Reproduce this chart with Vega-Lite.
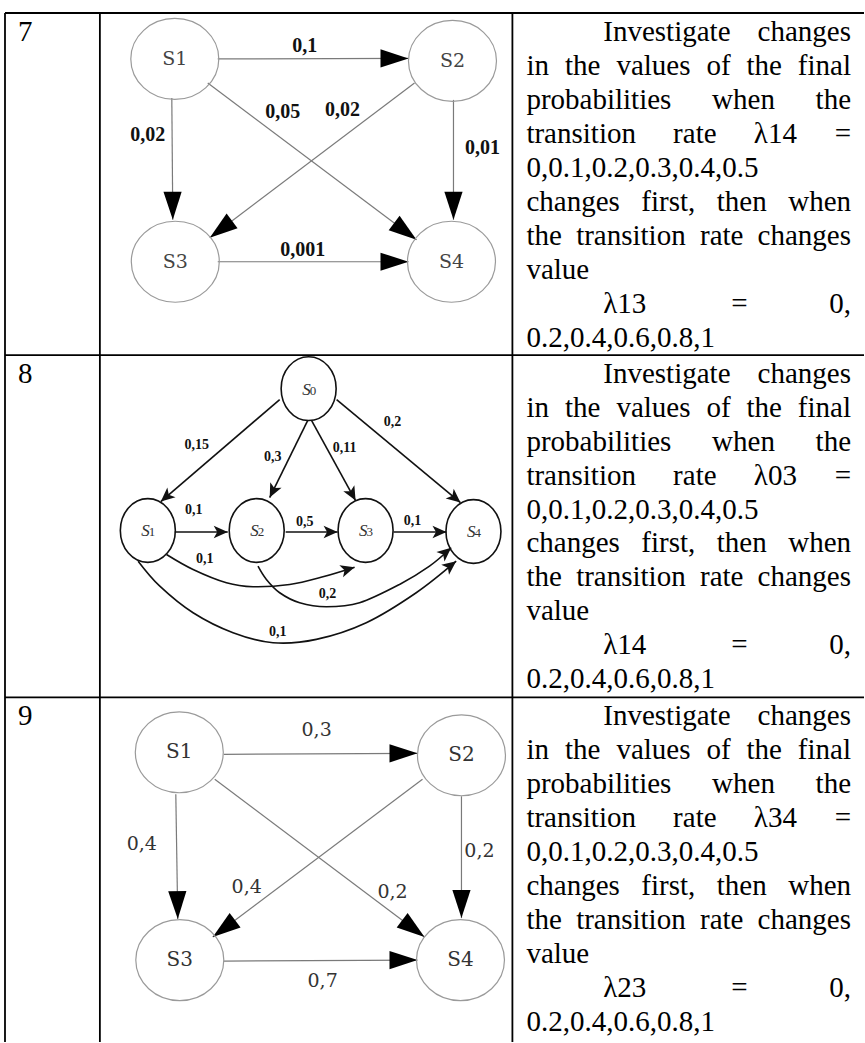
{
 "$schema": "https://vega.github.io/schema/vega-lite/v6.json",
 "width": 865,
 "height": 1043,
 "autosize": {"type": "fit", "contains": "padding"},
 "padding": 0,
 "background": "white",
 "config": {"view": {"stroke": null}},
 "datasets": {
  "grid": [
   {"x": 5, "y": 13, "x2": 865, "y2": 13},
   {"x": 5, "y": 355.5, "x2": 865, "y2": 355.5},
   {"x": 5, "y": 698, "x2": 865, "y2": 698},
   {"x": 5, "y": 13, "x2": 5, "y2": 1043},
   {"x": 100, "y": 13, "x2": 100, "y2": 1043},
   {"x": 513, "y": 13, "x2": 513, "y2": 1043}
  ],
  "nums": [
   {"n": "7", "x": 18, "y": 41},
   {"n": "8", "x": 18, "y": 383},
   {"n": "9", "x": 18, "y": 726}
  ],
  "words": [
   {"w": "Investigate", "x": 604, "y": 41},
   {"w": "in", "x": 527, "y": 75}, {"w": "the", "x": 565.6, "y": 75}, {"w": "values", "x": 617.1, "y": 75}, {"w": "of", "x": 707.2, "y": 75}, {"w": "the", "x": 747.4, "y": 75},
   {"w": "probabilities", "x": 527, "y": 109}, {"w": "when", "x": 712.9, "y": 109},
   {"w": "transition", "x": 527, "y": 143}, {"w": "rate", "x": 673.9, "y": 143}, {"w": "λ14", "x": 754.7, "y": 143},
   {"w": "0,0.1,0.2,0.3,0.4,0.5", "x": 527, "y": 177},
   {"w": "changes", "x": 527, "y": 211}, {"w": "first,", "x": 642, "y": 211}, {"w": "then", "x": 717.6, "y": 211},
   {"w": "the", "x": 527, "y": 245}, {"w": "transition", "x": 576.8, "y": 245}, {"w": "rate", "x": 700.8, "y": 245},
   {"w": "value", "x": 527, "y": 279},
   {"w": "λ13", "x": 604, "y": 313}, {"w": "=", "x": 732, "y": 313},
   {"w": "0.2,0.4,0.6,0.8,1", "x": 527, "y": 347},

   {"w": "Investigate", "x": 604, "y": 383},
   {"w": "in", "x": 527, "y": 417}, {"w": "the", "x": 565.6, "y": 417}, {"w": "values", "x": 617.1, "y": 417}, {"w": "of", "x": 707.2, "y": 417}, {"w": "the", "x": 747.4, "y": 417},
   {"w": "probabilities", "x": 527, "y": 451}, {"w": "when", "x": 712.9, "y": 451},
   {"w": "transition", "x": 527, "y": 485}, {"w": "rate", "x": 673.9, "y": 485}, {"w": "λ03", "x": 754.7, "y": 485},
   {"w": "0,0.1,0.2,0.3,0.4,0.5", "x": 527, "y": 519},
   {"w": "changes", "x": 527, "y": 553}, {"w": "first,", "x": 642, "y": 553}, {"w": "then", "x": 717.6, "y": 553},
   {"w": "the", "x": 527, "y": 587}, {"w": "transition", "x": 576.8, "y": 587}, {"w": "rate", "x": 700.8, "y": 587},
   {"w": "value", "x": 527, "y": 621},
   {"w": "λ14", "x": 604, "y": 655}, {"w": "=", "x": 732, "y": 655},
   {"w": "0.2,0.4,0.6,0.8,1", "x": 527, "y": 689},

   {"w": "Investigate", "x": 604, "y": 726},
   {"w": "in", "x": 527, "y": 760}, {"w": "the", "x": 565.6, "y": 760}, {"w": "values", "x": 617.1, "y": 760}, {"w": "of", "x": 707.2, "y": 760}, {"w": "the", "x": 747.4, "y": 760},
   {"w": "probabilities", "x": 527, "y": 794}, {"w": "when", "x": 712.9, "y": 794},
   {"w": "transition", "x": 527, "y": 828}, {"w": "rate", "x": 673.9, "y": 828}, {"w": "λ34", "x": 754.7, "y": 828},
   {"w": "0,0.1,0.2,0.3,0.4,0.5", "x": 527, "y": 862},
   {"w": "changes", "x": 527, "y": 896}, {"w": "first,", "x": 642, "y": 896}, {"w": "then", "x": 717.6, "y": 896},
   {"w": "the", "x": 527, "y": 930}, {"w": "transition", "x": 576.8, "y": 930}, {"w": "rate", "x": 700.8, "y": 930},
   {"w": "value", "x": 527, "y": 964},
   {"w": "λ23", "x": 604, "y": 998}, {"w": "=", "x": 732, "y": 998},
   {"w": "0.2,0.4,0.6,0.8,1", "x": 527, "y": 1032}
  ],
  "wordsEnd": [
   {"w": "changes", "x": 852, "y": 41}, {"w": "final", "x": 852, "y": 75}, {"w": "the", "x": 852, "y": 109}, {"w": "=", "x": 852, "y": 143}, {"w": "when", "x": 852, "y": 211}, {"w": "changes", "x": 852, "y": 245}, {"w": "0,", "x": 852, "y": 313},
   {"w": "changes", "x": 852, "y": 383}, {"w": "final", "x": 852, "y": 417}, {"w": "the", "x": 852, "y": 451}, {"w": "=", "x": 852, "y": 485}, {"w": "when", "x": 852, "y": 553}, {"w": "changes", "x": 852, "y": 587}, {"w": "0,", "x": 852, "y": 655},
   {"w": "changes", "x": 852, "y": 726}, {"w": "final", "x": 852, "y": 760}, {"w": "the", "x": 852, "y": 794}, {"w": "=", "x": 852, "y": 828}, {"w": "when", "x": 852, "y": 896}, {"w": "changes", "x": 852, "y": 930}, {"w": "0,", "x": 852, "y": 998}
  ],
  "nodes": [
   {"g": "d7", "name": "S1", "s": "S", "n": "1", "x": 175, "y": 59},
   {"g": "d7", "name": "S2", "s": "S", "n": "2", "x": 453, "y": 61},
   {"g": "d7", "name": "S3", "s": "S", "n": "3", "x": 175.5, "y": 262},
   {"g": "d7", "name": "S4", "s": "S", "n": "4", "x": 452, "y": 262},
   {"g": "d8", "name": "S0", "s": "S", "n": "0", "x": 309, "y": 389},
   {"g": "d8", "name": "S1", "s": "S", "n": "1", "x": 148, "y": 531},
   {"g": "d8", "name": "S2", "s": "S", "n": "2", "x": 257, "y": 531},
   {"g": "d8", "name": "S3", "s": "S", "n": "3", "x": 366, "y": 531},
   {"g": "d8", "name": "S4", "s": "S", "n": "4", "x": 474, "y": 532},
   {"g": "d9", "name": "S1", "s": "S", "n": "1", "x": 179.5, "y": 753},
   {"g": "d9", "name": "S2", "s": "S", "n": "2", "x": 462, "y": 756},
   {"g": "d9", "name": "S3", "s": "S", "n": "3", "x": 180, "y": 961},
   {"g": "d9", "name": "S4", "s": "S", "n": "4", "x": 461, "y": 961}
  ],
  "edges": [
   {"g": "d7", "x": 218, "y": 59, "x2": 409, "y2": 58.5},
   {"g": "d7", "x": 172, "y": 98, "x2": 173, "y2": 220},
   {"g": "d7", "x": 454, "y": 100, "x2": 454, "y2": 220},
   {"g": "d7", "x": 218, "y": 262, "x2": 409, "y2": 262},
   {"g": "d7", "x": 208, "y": 83, "x2": 417, "y2": 240},
   {"g": "d7", "x": 415, "y": 83, "x2": 210, "y2": 238},
   {"g": "d9", "x": 224, "y": 755, "x2": 418, "y2": 754},
   {"g": "d9", "x": 176, "y": 795, "x2": 178, "y2": 920},
   {"g": "d9", "x": 462, "y": 797, "x2": 462, "y2": 919},
   {"g": "d9", "x": 224, "y": 962, "x2": 418, "y2": 961},
   {"g": "d9", "x": 215, "y": 780, "x2": 425, "y2": 938},
   {"g": "d9", "x": 423, "y": 780, "x2": 213, "y2": 938},
   {"g": "d8", "x": 280, "y": 400, "x2": 161, "y2": 502},
   {"g": "d8", "x": 308, "y": 421, "x2": 270, "y2": 498},
   {"g": "d8", "x": 312, "y": 421, "x2": 356, "y2": 501},
   {"g": "d8", "x": 337, "y": 400, "x2": 461, "y2": 503},
   {"g": "d8", "x": 175, "y": 532.5, "x2": 228, "y2": 532.5},
   {"g": "d8", "x": 286, "y": 532.5, "x2": 338, "y2": 532.5},
   {"g": "d8", "x": 394, "y": 532.5, "x2": 447, "y2": 532.5}
  ],
  "curves": [
   {"edge": "c13", "i": 0, "x": 166.7, "y": 555}, {"edge": "c13", "i": 1, "x": 193.3, "y": 570}, {"edge": "c13", "i": 2, "x": 226.7, "y": 583.3}, {"edge": "c13", "i": 3, "x": 253.3, "y": 587.3}, {"edge": "c13", "i": 4, "x": 290, "y": 585}, {"edge": "c13", "i": 5, "x": 323.3, "y": 577.3}, {"edge": "c13", "i": 6, "x": 355, "y": 567.7},
   {"edge": "c24", "i": 0, "x": 258.3, "y": 566.7}, {"edge": "c24", "i": 1, "x": 266.7, "y": 580}, {"edge": "c24", "i": 2, "x": 280, "y": 593.3}, {"edge": "c24", "i": 3, "x": 300, "y": 603.3}, {"edge": "c24", "i": 4, "x": 326.7, "y": 607.3}, {"edge": "c24", "i": 5, "x": 360, "y": 603.3}, {"edge": "c24", "i": 6, "x": 400, "y": 585}, {"edge": "c24", "i": 7, "x": 430, "y": 566.7}, {"edge": "c24", "i": 8, "x": 451.7, "y": 548.3},
   {"edge": "c14", "i": 0, "x": 138.3, "y": 561.7}, {"edge": "c14", "i": 1, "x": 160, "y": 586.7}, {"edge": "c14", "i": 2, "x": 193.3, "y": 613.3}, {"edge": "c14", "i": 3, "x": 233.3, "y": 633.3}, {"edge": "c14", "i": 4, "x": 273.3, "y": 643.3}, {"edge": "c14", "i": 5, "x": 316.7, "y": 640}, {"edge": "c14", "i": 6, "x": 366.7, "y": 623.3}, {"edge": "c14", "i": 7, "x": 416.7, "y": 593.3}, {"edge": "c14", "i": 8, "x": 456.7, "y": 561.7}
  ],
  "arrows": [
   {"g": "d7", "x": 409, "y": 58.5, "angle": 0},
   {"g": "d7", "x": 173, "y": 220, "angle": 89.5},
   {"g": "d7", "x": 454, "y": 220, "angle": 90},
   {"g": "d7", "x": 409, "y": 262, "angle": 0},
   {"g": "d7", "x": 417, "y": 240, "angle": 36.9},
   {"g": "d7", "x": 210, "y": 238, "angle": 142.9},
   {"g": "d9", "x": 418, "y": 754, "angle": 0},
   {"g": "d9", "x": 178, "y": 920, "angle": 89},
   {"g": "d9", "x": 462, "y": 919, "angle": 90},
   {"g": "d9", "x": 418, "y": 961, "angle": 0},
   {"g": "d9", "x": 425, "y": 938, "angle": 37},
   {"g": "d9", "x": 213, "y": 938, "angle": 143},
   {"g": "d8", "x": 161, "y": 502, "angle": 139.4},
   {"g": "d8", "x": 270, "y": 498, "angle": 116.3},
   {"g": "d8", "x": 356, "y": 501, "angle": 61.2},
   {"g": "d8", "x": 461, "y": 503, "angle": 39.7},
   {"g": "d8", "x": 228, "y": 532.5, "angle": 0},
   {"g": "d8", "x": 338, "y": 532.5, "angle": 0},
   {"g": "d8", "x": 447, "y": 532.5, "angle": 0},
   {"g": "d8", "x": 355, "y": 567.7, "angle": -17},
   {"g": "d8", "x": 451.7, "y": 548.3, "angle": -40},
   {"g": "d8", "x": 456.7, "y": 561.7, "angle": -38}
  ],
  "elabels": [
   {"g": "d7", "t": "0,1", "x": 305, "y": 46},
   {"g": "d7", "t": "0,05", "x": 283, "y": 112},
   {"g": "d7", "t": "0,02", "x": 343, "y": 110},
   {"g": "d7", "t": "0,02", "x": 148, "y": 135},
   {"g": "d7", "t": "0,01", "x": 483, "y": 148},
   {"g": "d7", "t": "0,001", "x": 303, "y": 250},
   {"g": "d8", "t": "0,15", "x": 197, "y": 445},
   {"g": "d8", "t": "0,3", "x": 273, "y": 457},
   {"g": "d8", "t": "0,11", "x": 345, "y": 448},
   {"g": "d8", "t": "0,2", "x": 393, "y": 422},
   {"g": "d8", "t": "0,1", "x": 194, "y": 510},
   {"g": "d8", "t": "0,5", "x": 305, "y": 523},
   {"g": "d8", "t": "0,1", "x": 413, "y": 522},
   {"g": "d8", "t": "0,1", "x": 205, "y": 560},
   {"g": "d8", "t": "0,2", "x": 328, "y": 595},
   {"g": "d8", "t": "0,1", "x": 278, "y": 633},
   {"g": "d9", "t": "0,3", "x": 317, "y": 731},
   {"g": "d9", "t": "0,4", "x": 142, "y": 845},
   {"g": "d9", "t": "0,4", "x": 247, "y": 888},
   {"g": "d9", "t": "0,2", "x": 480, "y": 852},
   {"g": "d9", "t": "0,2", "x": 393, "y": 893},
   {"g": "d9", "t": "0,7", "x": 323, "y": 982}
  ]
 },
 "encoding": {
  "x": {"field": "x", "type": "quantitative", "scale": {"domain": [0, 865], "nice": false, "zero": false}, "axis": null},
  "y": {"field": "y", "type": "quantitative", "scale": {"domain": [0, 1043], "reverse": true, "nice": false, "zero": false}, "axis": null}
 },
 "layer": [
  {
   "data": {"name": "grid"},
   "mark": {"type": "rule", "color": "black", "strokeWidth": 1.8},
   "encoding": {"x2": {"field": "x2"}, "y2": {"field": "y2"}}
  },
  {
   "data": {"name": "nums"},
   "mark": {"type": "text", "font": "Liberation Serif", "fontSize": 29, "align": "left", "baseline": "alphabetic", "color": "black"},
   "encoding": {"text": {"field": "n"}}
  },
  {
   "data": {"name": "words"},
   "mark": {"type": "text", "font": "Liberation Serif", "fontSize": 29, "align": "left", "baseline": "alphabetic", "color": "black"},
   "encoding": {"text": {"field": "w"}}
  },
  {
   "data": {"name": "wordsEnd"},
   "mark": {"type": "text", "font": "Liberation Serif", "fontSize": 29, "align": "right", "baseline": "alphabetic", "color": "black"},
   "encoding": {"text": {"field": "w"}}
  },
  {
   "data": {"name": "edges"},
   "transform": [{"filter": "datum.g !== 'd8'"}],
   "mark": {"type": "rule", "color": "#7a7a7a", "strokeWidth": 1.2},
   "encoding": {"x2": {"field": "x2"}, "y2": {"field": "y2"}}
  },
  {
   "data": {"name": "edges"},
   "transform": [{"filter": "datum.g === 'd8'"}],
   "mark": {"type": "rule", "color": "#111111", "strokeWidth": 1.6},
   "encoding": {"x2": {"field": "x2"}, "y2": {"field": "y2"}}
  },
  {
   "data": {"name": "curves"},
   "mark": {"type": "line", "interpolate": "cardinal", "color": "#111111", "strokeWidth": 1.6},
   "encoding": {"detail": {"field": "edge"}, "order": {"field": "i", "type": "quantitative"}}
  },
  {
   "data": {"name": "arrows"},
   "transform": [{"filter": "datum.g !== 'd8'"}],
   "mark": {"type": "point", "shape": "M0,0L-2,-0.65L-2,0.65Z", "size": 784, "filled": true, "color": "black", "opacity": 1, "strokeWidth": 0},
   "encoding": {"angle": {"field": "angle", "type": "quantitative", "scale": null}}
  },
  {
   "data": {"name": "arrows"},
   "transform": [{"filter": "datum.g === 'd8'"}],
   "mark": {"type": "point", "shape": "M0,0L-2,-0.9L-1.5,0L-2,0.9Z", "size": 196, "filled": true, "color": "#111111", "opacity": 1, "strokeWidth": 0},
   "encoding": {"angle": {"field": "angle", "type": "quantitative", "scale": null}}
  },
  {
   "data": {"name": "nodes"},
   "transform": [{"filter": "datum.g !== 'd8'"}],
   "mark": {"type": "point", "shape": "M-1,0A1,0.92,0,1,1,1,0A1,0.92,0,1,1,-1,0Z", "size": 7744, "filled": false, "stroke": "#9a9a9a", "strokeWidth": 1.2, "opacity": 1}
  },
  {
   "data": {"name": "nodes"},
   "transform": [{"filter": "datum.g === 'd8'"}],
   "mark": {"type": "point", "shape": "M-1,0A1,1.16,0,1,1,1,0A1,1.16,0,1,1,-1,0Z", "size": 3025, "filled": false, "stroke": "#111111", "strokeWidth": 1.6, "opacity": 1}
  },
  {
   "data": {"name": "nodes"},
   "transform": [{"filter": "datum.g === 'd7'"}],
   "mark": {"type": "text", "font": "DejaVu Serif", "fontSize": 19, "align": "center", "baseline": "middle", "color": "#444444"},
   "encoding": {"text": {"field": "name"}}
  },
  {
   "data": {"name": "nodes"},
   "transform": [{"filter": "datum.g === 'd9'"}],
   "mark": {"type": "text", "font": "DejaVu Serif", "fontSize": 20, "align": "center", "baseline": "middle", "color": "#333333"},
   "encoding": {"text": {"field": "name"}}
  },
  {
   "data": {"name": "nodes"},
   "transform": [{"filter": "datum.g === 'd8'"}],
   "mark": {"type": "text", "font": "Liberation Serif", "fontStyle": "italic", "fontSize": 17, "align": "right", "baseline": "alphabetic", "dx": 2, "dy": 6, "color": "#333333"},
   "encoding": {"text": {"field": "s"}}
  },
  {
   "data": {"name": "nodes"},
   "transform": [{"filter": "datum.g === 'd8'"}],
   "mark": {"type": "text", "font": "Liberation Serif", "fontSize": 13, "align": "left", "baseline": "alphabetic", "dx": 1, "dy": 6, "color": "#333333"},
   "encoding": {"text": {"field": "n"}}
  },
  {
   "data": {"name": "elabels"},
   "transform": [{"filter": "datum.g === 'd7'"}],
   "mark": {"type": "text", "font": "Liberation Serif", "fontWeight": "bold", "fontSize": 20, "align": "center", "baseline": "middle", "color": "#111111"},
   "encoding": {"text": {"field": "t"}}
  },
  {
   "data": {"name": "elabels"},
   "transform": [{"filter": "datum.g === 'd8'"}],
   "mark": {"type": "text", "font": "Liberation Serif", "fontWeight": "bold", "fontSize": 14, "align": "center", "baseline": "middle", "color": "#111111"},
   "encoding": {"text": {"field": "t"}}
  },
  {
   "data": {"name": "elabels"},
   "transform": [{"filter": "datum.g === 'd9'"}],
   "mark": {"type": "text", "font": "DejaVu Serif", "fontSize": 19, "align": "center", "baseline": "middle", "color": "#333333"},
   "encoding": {"text": {"field": "t"}}
  }
 ]
}
